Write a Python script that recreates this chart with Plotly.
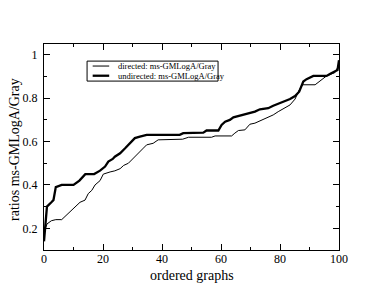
import plotly.graph_objects as go

# undirected: ms-GMLogA/Gray (thick)
undirected_x = [0, 1, 2.5, 3.2, 4, 6, 10, 12, 14, 17, 19, 20.7, 21.8, 23.3, 24, 25.8, 27.5, 29.2,
                30.8, 32.5, 34.8, 46, 47.2, 54, 55.1, 59.1, 60.2, 61.4, 63, 64.2, 66.4, 68.1, 69.8,
                71.5, 73.2, 76, 77.7, 79.4, 81.7, 83.4, 85.1, 86.5, 87.9, 89, 91.3, 95.8, 96.9,
                98.6, 99.5, 100]
undirected_y = [0.14, 0.30, 0.32, 0.33, 0.39, 0.40, 0.40, 0.42, 0.45, 0.45, 0.466, 0.485, 0.508,
                0.52, 0.53, 0.546, 0.569, 0.592, 0.616, 0.623, 0.631, 0.631, 0.639, 0.641, 0.651,
                0.651, 0.677, 0.692, 0.70, 0.712, 0.72, 0.723, 0.731, 0.738, 0.749, 0.754, 0.765,
                0.774, 0.785, 0.796, 0.81, 0.83, 0.877, 0.888, 0.903, 0.903, 0.912, 0.923, 0.93,
                0.975]

# directed: ms-GMLogA/Gray (thin)
directed_x = [0, 1, 2.5, 4, 6, 7.1, 8.2, 9.9, 11.1, 12.2, 13.9, 15, 16.2, 17.3, 19, 20.1, 22.4,
              24, 25.8, 27, 28.6, 30.3, 32, 33.7, 34.8, 37, 38.7, 47, 49, 56.8, 58, 63.6, 64.7,
              65.9, 68.1, 69.8, 71.5, 73.2, 75.5, 77.7, 79.4, 81.7, 83.4, 85.1, 86.5, 87.7, 91.9,
              95.8, 98.6, 99.5, 100]
directed_y = [0.18, 0.22, 0.235, 0.24, 0.24, 0.254, 0.27, 0.29, 0.305, 0.32, 0.33, 0.36, 0.375,
              0.40, 0.42, 0.45, 0.46, 0.465, 0.475, 0.49, 0.50, 0.525, 0.55, 0.57, 0.585, 0.592,
              0.608, 0.611, 0.62, 0.62, 0.626, 0.626, 0.639, 0.651, 0.654, 0.68, 0.685, 0.695,
              0.708, 0.723, 0.738, 0.754, 0.769, 0.796, 0.838, 0.862, 0.862, 0.903, 0.918, 0.94,
              0.96]

legend_labels = ["directed: ms-GMLogA/Gray", "undirected: ms-GMLogA/Gray"]
x_title = "ordered graphs"
y_title = "ratios ms-GMLogA/Gray"

FONT = "Liberation Serif, Times New Roman, serif"

fig = go.Figure()
fig.add_trace(go.Scatter(x=directed_x, y=directed_y, mode="lines",
                         line=dict(color="black", width=1), name=legend_labels[0],
                         showlegend=False))
fig.add_trace(go.Scatter(x=undirected_x, y=undirected_y, mode="lines",
                         line=dict(color="black", width=2.3), name=legend_labels[1],
                         showlegend=False))

# manual legend (box, line samples, labels)
fig.add_shape(type="rect", xref="paper", yref="paper", x0=0.146, x1=0.590, y0=0.820, y1=0.917,
              line=dict(color="black", width=1), fillcolor="white")
for i, (lw, yy) in enumerate([(1, 0.893), (2.3, 0.846)]):
    fig.add_shape(type="line", xref="paper", yref="paper", x0=0.165, x1=0.221, y0=yy, y1=yy,
                  line=dict(color="black", width=lw))
    fig.add_annotation(xref="paper", yref="paper", x=0.244, y=yy, text=legend_labels[i],
                       showarrow=False, xanchor="left", yanchor="middle",
                       font=dict(family=FONT, size=8.5, color="black"))

# axis titles
fig.add_annotation(xref="paper", yref="paper", x=0.5, y=-0.122, text=x_title, showarrow=False,
                   xanchor="center", yanchor="middle", font=dict(family=FONT, size=14, color="black"))
fig.add_annotation(xref="paper", yref="paper", x=-0.102, y=0.49, text=y_title, showarrow=False,
                   textangle=-90, xanchor="center", yanchor="middle",
                   font=dict(family=FONT, size=14, color="black"))

axis_common = dict(showline=True, linecolor="black", linewidth=1, mirror="ticks",
                   ticks="inside", ticklen=6, tickwidth=1, tickcolor="black",
                   showgrid=False, zeroline=False, automargin=False,
                   tickfont=dict(family=FONT, size=12, color="black"))

fig.update_xaxes(range=[0, 100], tick0=0, dtick=20, ticklabelstandoff=-2,
                 minor=dict(dtick=10, ticks="inside", ticklen=3, tickcolor="black", showgrid=False),
                 **axis_common)
fig.update_yaxes(range=[0.1, 1.05], tick0=0, dtick=0.2, ticklabelstandoff=3,
                 minor=dict(dtick=0.1, ticks="inside", ticklen=3, tickcolor="black", showgrid=False),
                 **axis_common)

# page body has an 8px margin, so the figure is 8px smaller and margins offset by 8
fig.update_layout(width=374, height=287, margin=dict(l=36, r=43, t=36, b=45),
                  paper_bgcolor="white", plot_bgcolor="white",
                  font=dict(family=FONT, color="black"), showlegend=False)

fig.write_html("out.html")
